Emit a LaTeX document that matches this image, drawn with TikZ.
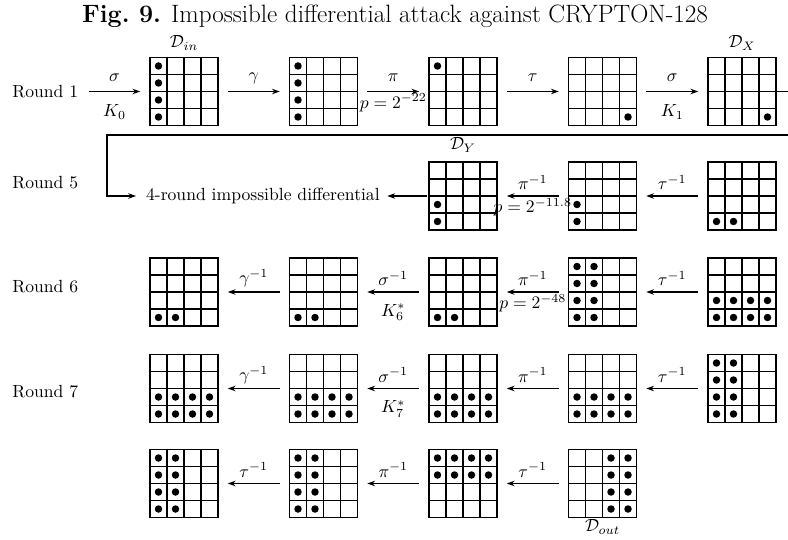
\documentclass[tikz,border=0pt]{standalone}
\usepackage{fix-cm}
\usetikzlibrary{calc,arrows.meta}
\tikzset{
  gridbox/.style={draw, line width=0.95pt, rectangle, minimum width=41.72pt, minimum height=41.72pt, inner sep=0pt, outer sep=0pt},
  gridline/.style={line width=0.95pt},
  arr/.style={-{Stealth[length=4.8pt,width=3.4pt]}, line width=0.65pt, shorten >=6pt, shorten <=6pt},
  brk/.style={-{Stealth[length=4.8pt,width=3.4pt]}, line width=0.65pt, shorten >=6pt},
  lab/.style={inner sep=0pt},
  labup/.style={lab, midway, yshift=8.3pt},
  labdown/.style={lab, midway, yshift=-12.5pt},
  labp/.style={lab, midway, yshift=-6.8pt},
  roundlab/.style={inner sep=0pt, anchor=west},
  dlab/.style={inner sep=0pt},
}
\newcommand{\mkgrid}[4]{%
  \node[gridbox] (#1) at (#2,#3) {};
  \foreach \k in {1,2,3}{%
    \draw[gridline] ($(#1.north west)+(\k*17,0)$) -- ($(#1.south west)+(\k*17,0)$);
    \draw[gridline] ($(#1.north west)+(0,\k*17)$) -- ($(#1.north east)+(0,\k*17)$);
  }%
  \foreach \c/\r in {#4}{%
    \fill ($(#1.north west)+(\c*17-8.5,\r*17-8.5)$) circle[radius=2.3pt];
  }%
}
\begin{document}
\fontsize{10.8}{13}\selectfont
\begin{tikzpicture}[x=0.6135pt,y=-0.6135pt]
\useasboundingbox (0,0) rectangle (788,540);
\node[font=\fontsize{15.4}{18}\selectfont] (title) at (395,16) {\textbf{Fig.\ 9.} Impossible differential attack against CRYPTON-128};

% row labels
\node[roundlab] (r1) at (12,91.5) {Round 1};
\node[roundlab] (r5) at (12,183) {Round 5};
\node[roundlab] (r6) at (12,287) {Round 6};
\node[roundlab] (r7) at (12,392) {Round 7};

% Row 1
\mkgrid{g11}{184}{91.5}{1/1,1/2,1/3,1/4}
\mkgrid{g12}{323.5}{91.5}{1/1,1/2,1/3,1/4}
\mkgrid{g13}{463}{91.5}{1/1}
\mkgrid{g14}{602.5}{91.5}{4/4}
\mkgrid{g15}{742}{91.5}{4/4}
\node[dlab] (din) at (184,43) {$\mathcal{D}_{in}$};
\node[dlab] (dx) at (742,43) {$\mathcal{D}_X$};
\coordinate (s0) at (79,91.5);
\draw[arr] (s0) -- node[labup]{$\sigma$} node[labdown]{$K_0$} (g11);
\draw[arr] (g11) -- node[labup]{$\gamma$} (g12);
\draw[arr] (g12) -- node[labup]{$\pi$} node[labp]{$p=2^{-22}$} (g13);
\draw[arr] (g13) -- node[labup]{$\tau$} (g14);
\draw[arr] (g14) -- node[labup]{$\sigma$} node[labdown]{$K_1$} (g15);

% Row 5
\mkgrid{g53}{463}{196}{1/3,1/4}
\mkgrid{g54}{602.5}{196}{1/3,1/4}
\mkgrid{g55}{742}{196}{1/4,2/4}
\node[dlab] (dy) at (463,145) {$\mathcal{D}_Y$};
\node[lab, anchor=east] (imp) at (380,196) {4-round impossible differential};
\coordinate (b1) at (796,91.5);
\coordinate (b2) at (796,135);
\coordinate (b3) at (107,135);
\coordinate (b4) at (107,196);
\draw[brk] (g15.east) -- (b1) -- (b2) -- (b3) -- (b4) -- (imp.west);
\draw[arr, shorten <=1.2pt, shorten >=4.5pt] (g53) -- (imp);
\draw[arr] (g54) -- node[labup]{$\pi^{-1}$} node[labp]{$p=2^{-11.8}$} (g53);
\draw[arr] (g55) -- node[labup]{$\tau^{-1}$} (g54);

% Row 6
\mkgrid{g61}{184}{292}{1/4,2/4}
\mkgrid{g62}{323.5}{292}{1/4,2/4}
\mkgrid{g63}{463}{292}{1/4,2/4}
\mkgrid{g64}{602.5}{292}{1/1,2/1,1/2,2/2,1/3,2/3,1/4,2/4}
\mkgrid{g65}{742}{292}{1/3,2/3,3/3,4/3,1/4,2/4,3/4,4/4}
\draw[arr] (g62) -- node[labup]{$\gamma^{-1}$} (g61);
\draw[arr] (g63) -- node[labup]{$\sigma^{-1}$} node[labdown]{$K_6^*$} (g62);
\draw[arr] (g64) -- node[labup]{$\pi^{-1}$} node[labp]{$p=2^{-48}$} (g63);
\draw[arr] (g65) -- node[labup]{$\tau^{-1}$} (g64);

% Row 7
\mkgrid{g71}{184}{388.5}{1/3,2/3,3/3,4/3,1/4,2/4,3/4,4/4}
\mkgrid{g72}{323.5}{388.5}{1/3,2/3,3/3,4/3,1/4,2/4,3/4,4/4}
\mkgrid{g73}{463}{388.5}{1/3,2/3,3/3,4/3,1/4,2/4,3/4,4/4}
\mkgrid{g74}{602.5}{388.5}{1/3,2/3,3/3,4/3,1/4,2/4,3/4,4/4}
\mkgrid{g75}{742}{388.5}{1/1,2/1,1/2,2/2,1/3,2/3,1/4,2/4}
\draw[arr] (g72) -- node[labup]{$\gamma^{-1}$} (g71);
\draw[arr] (g73) -- node[labup]{$\sigma^{-1}$} node[labdown]{$K_7^*$} (g72);
\draw[arr] (g74) -- node[labup]{$\pi^{-1}$} (g73);
\draw[arr] (g75) -- node[labup]{$\tau^{-1}$} (g74);

% Row 8
\mkgrid{g81}{184}{483.5}{1/1,2/1,1/2,2/2,1/3,2/3,1/4,2/4}
\mkgrid{g82}{323.5}{483.5}{1/1,2/1,1/2,2/2,1/3,2/3,1/4,2/4}
\mkgrid{g83}{463}{483.5}{1/1,2/1,3/1,4/1,1/2,2/2,3/2,4/2}
\mkgrid{g84}{602.5}{483.5}{3/1,4/1,3/2,4/2,3/3,4/3,3/4,4/4}
\node[dlab] (dout) at (602.5,527) {$\mathcal{D}_{out}$};
\draw[arr] (g82) -- node[labup]{$\tau^{-1}$} (g81);
\draw[arr] (g83) -- node[labup]{$\pi^{-1}$} (g82);
\draw[arr] (g84) -- node[labup]{$\tau^{-1}$} (g83);
\end{tikzpicture}
\end{document}
